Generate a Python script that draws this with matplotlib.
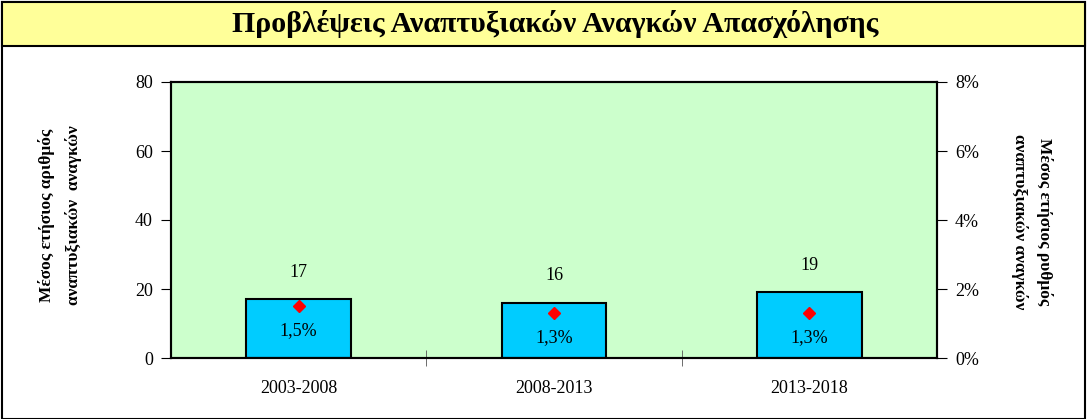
import matplotlib
matplotlib.use("Agg")
import matplotlib.pyplot as plt
from matplotlib.patches import Rectangle

periods = ["2003-2008", "2008-2013", "2013-2018"]
needs = [17, 16, 19]            # average annual number of development needs
growth = [0.015, 0.013, 0.013]  # average annual growth rate
growth_labels = ["1,5%", "1,3%", "1,3%"]

title = "Προβλέψεις Αναπτυξιακών Αναγκών Απασχόλησης"
left_label = "Μέσος ετήσιος αριθμός\nαναπτυξιακών  αναγκών"
right_label = "Μέσος ετήσιος ρυθμός\nαναπτυξιακών αναγκών"

plt.rcParams["font.family"] = ["Liberation Serif", "DejaVu Serif"]

W, H = 1089, 419
fig = plt.figure(figsize=(W / 100, H / 100), dpi=100)

# frame and title band (behind the axes)
fig.patches.append(Rectangle((2 / W, 0), 1083 / W, 417 / H, transform=fig.transFigure,
                             facecolor="white", edgecolor="black", lw=1.5, zorder=-2))
fig.patches.append(Rectangle((2 / W, (H - 46) / H), 1083 / W, 44 / H, transform=fig.transFigure,
                             facecolor="#FFFF99", edgecolor="black", lw=1.5, zorder=-1))
fig.text(555 / W, (H - 24) / H, title, ha="center", va="center",
         fontsize=21.5, fontweight="bold")

ax = fig.add_axes([171 / W, (H - 358) / H, 766 / W, 276 / H])
ax.set_facecolor("#CCFFCC")
x = range(len(periods))
ax.bar(x, needs, width=0.41, color="#00CCFF", edgecolor="black", lw=1.5, zorder=2)
ax.set_xlim(-0.5, 2.5)
ax.set_ylim(0, 80)
ax.set_yticks([0, 20, 40, 60, 80])
ax.set_xticks(list(x))
ax.set_xticklabels(periods)
ax.tick_params(axis="x", length=0, pad=16, labelsize=13)
ax.set_xticks([0.5, 1.5], minor=True)
ax.tick_params(axis="x", which="minor", direction="inout", length=12, color="#555555")
ax.tick_params(axis="y", direction="out", length=7, labelsize=13, pad=6)
for s in ax.spines.values():
    s.set_linewidth(1.5)
for xi, v in zip(x, needs):
    ax.annotate(str(v), (xi, v), xytext=(0, 27), textcoords="offset pixels",
                ha="center", va="center", fontsize=13)

ax2 = ax.twinx()
ax2.set_ylim(0, 0.08)
ax2.set_yticks([0, 0.02, 0.04, 0.06, 0.08])
ax2.set_yticklabels(["0%", "2%", "4%", "6%", "8%"])
ax2.tick_params(axis="y", direction="out", length=7, labelsize=13, pad=6)
ax2.plot(list(x), growth, linestyle="none", marker="D", color="red", markersize=6, zorder=3)
for xi, v, t in zip(x, growth, growth_labels):
    ax2.annotate(t, (xi, v), xytext=(0, -24), textcoords="offset pixels",
                 ha="center", va="center", fontsize=13)
for s in ax2.spines.values():
    s.set_linewidth(1.5)

# axis titles
fig.text(60 / W, (H - 215) / H, left_label, rotation=90, ha="center", va="center",
         fontsize=12.5, fontweight="bold", linespacing=1.75)
fig.text(1032 / W, (H - 222) / H, right_label, rotation=-90, ha="center", va="center",
         fontsize=12.5, fontweight="bold", linespacing=1.6)

fig.savefig("out.png", dpi=100)
